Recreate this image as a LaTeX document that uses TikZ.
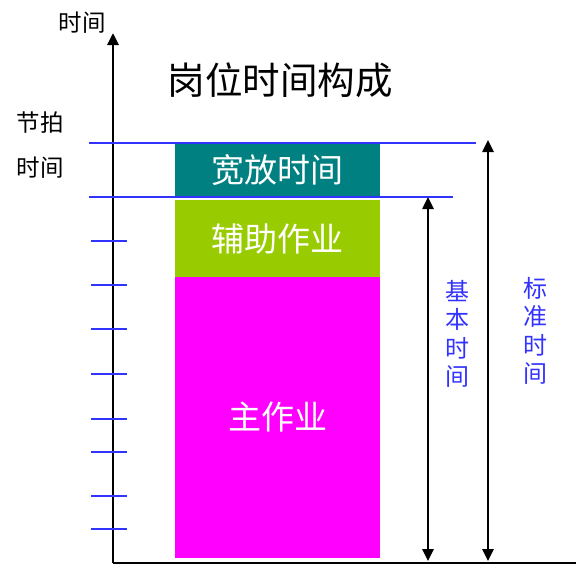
\documentclass[tikz,border=0pt]{standalone}
\usepackage{fontspec}
\newfontfamily\cjk{Noto Sans CJK SC}
\usetikzlibrary{arrows.meta}
\usepackage{xcolor}
\definecolor{lineblue}{RGB}{51,51,255}
\definecolor{kfteal}{RGB}{0,128,128}
\definecolor{fzgreen}{RGB}{153,204,0}
\definecolor{zzmagenta}{RGB}{255,0,255}

\begin{document}
\begin{tikzpicture}[x=1pt,y=-1pt]
  \tikzset{block/.style = {shape=rectangle,inner sep=0pt,outer sep=0pt,minimum width=205pt,text=white,font=\cjk\fontsize{33}{33}\selectfont}}
  \tikzset{label/.style = {inner sep=0pt,font=\cjk\fontsize{23.5}{23.5}\selectfont}}
  \tikzset{vlabel/.style = {inner sep=0pt,align=center,text=lineblue,font=\cjk\fontsize{24}{28.3}\selectfont}}
  \tikzset{blueline/.style = {draw=lineblue,line width=2pt}}
  \tikzset{%
  tipA/.tip={Triangle[width=11pt,length=12pt]},
}
  \tikzset{edge/.style = {line width=2.5pt,tipA-tipA}}
  \tikzset{axis/.style = {line width=2.8pt,-tipA}}

  \useasboundingbox (0,0) rectangle (576,576);

	\node[block,fill=kfteal,minimum height=53pt] (KF) at (277.5,170.5) {宽放时间};
	\node[block,fill=fzgreen,minimum height=77pt] (FZ) at (277.5,238.5) {辅助作业};
	\node[block,fill=zzmagenta,minimum height=281pt] (ZZ) at (277.5,417.5) {主作业};

	\node[inner sep=0pt,font=\cjk\fontsize{37.5}{37.5}\selectfont] (title) at (280,80.5) {岗位时间构成};
	\node[label] (TY) at (82,23) {时间};
	\node[label] (JP) at (40,123) {节拍};
	\node[label] (JT) at (40,168) {时间};
	\node[vlabel] (JB) at (457.5,334) {基\\本\\时\\间};
	\node[vlabel] (BZ) at (535.5,331) {标\\准\\时\\间};

	\coordinate (O) at (113,563);
	\coordinate (Ytop) at (113,33);
	\coordinate (Xend) at (576,563);
	\coordinate (L1a) at (89,143);
	\coordinate (L1b) at (476,143);
	\coordinate (L2a) at (89,197);
	\coordinate (L2b) at (453,197);
	\coordinate (JBt) at (428,197);
	\coordinate (JBb) at (428,561);
	\coordinate (BZt) at (488,140);
	\coordinate (BZb) at (488,561);

    \draw[axis] (O) -- (Ytop);
    \draw[line width=2.8pt] (O) -- (Xend);

    \foreach \from/\to in {L1a/L1b, L2a/L2b}
    \path[blueline](\from) edge (\to);

    \foreach \y in {241,285,329,374,419,452,496,529}
    \draw[blueline] (91,\y) -- (127,\y);

    \foreach \from/\to in {JBt/JBb, BZt/BZb}
    \path[edge](\from) edge (\to);

\end{tikzpicture}
\end{document}
